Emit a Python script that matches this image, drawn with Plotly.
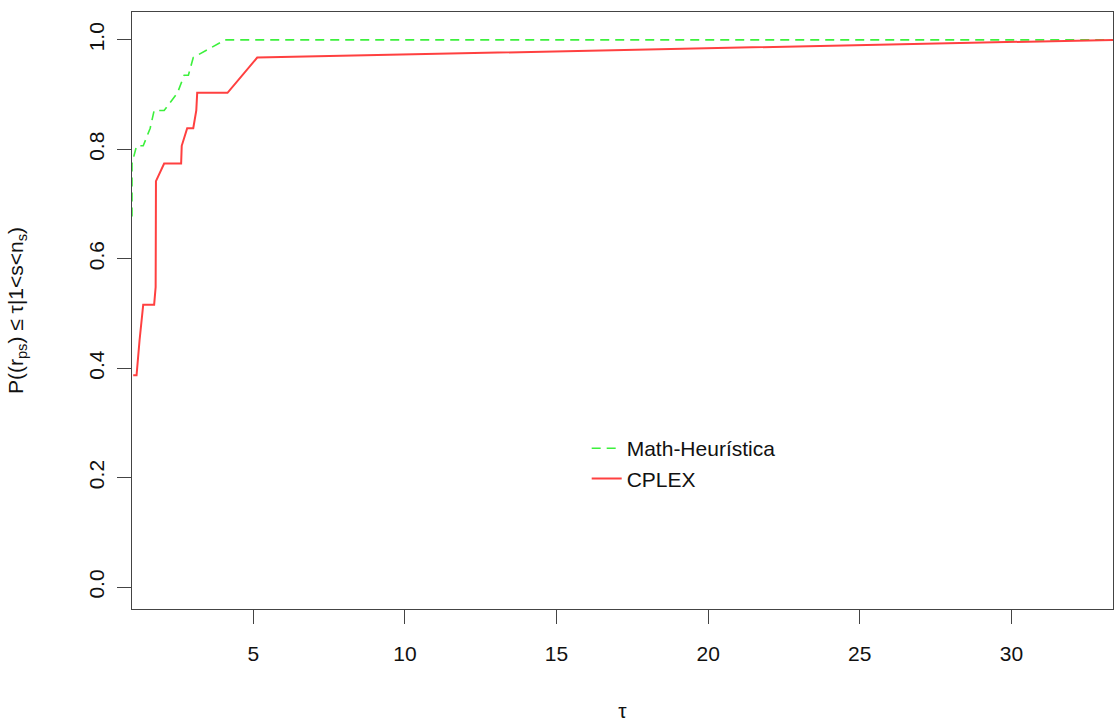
import plotly.graph_objects as go

N = 31
# Math-Heurística (green dashed)
mh_tau = [1.0, 1.0, 1.15, 1.37, 1.60, 1.73, 2.06, 2.50, 2.72, 2.86, 3.02, 4.07, 33.35]
mh_k = [21, 24, 25, 25, 26, 27, 27, 28, 29, 29, 30, 31, 31]

# CPLEX (red solid)
cp_tau = [1.04, 1.15, 1.25, 1.37, 1.73, 1.78, 1.79, 2.06, 2.62, 2.64, 2.82, 3.02, 3.12, 3.15, 4.15, 4.64, 5.13, 33.35]
cp_k = [12, 12, 14, 16, 16, 17, 23, 24, 24, 25, 26, 26, 27, 28, 28, 29, 30, 31]

x_ticks = [5, 10, 15, 20, 25, 30]
y_ticks = [0.0, 0.2, 0.4, 0.6, 0.8, 1.0]

mh_p = [k / N for k in mh_k]
cp_p = [k / N for k in cp_k]

FONT = "Liberation Sans, Arial, sans-serif"

fig = go.Figure()
fig.add_trace(go.Scatter(x=mh_tau, y=mh_p, mode="lines", name="Math-Heurística",
                         line=dict(color="#3cf03c", width=1.6, dash="9px,6px")))
fig.add_trace(go.Scatter(x=cp_tau, y=cp_p, mode="lines", name="CPLEX",
                         line=dict(color="#ff4040", width=2)))

axis_common = dict(showline=True, mirror=True, linecolor="#444444", linewidth=1.3,
                   ticks="outside", ticklen=14, tickcolor="#444444", tickwidth=1.3,
                   showgrid=False, zeroline=False,
                   tickfont=dict(family=FONT, size=21, color="#111111"))

fig.update_layout(
    width=1114, height=722,
    margin=dict(l=132, r=1, t=12, b=113),
    paper_bgcolor="white", plot_bgcolor="white",
    font=dict(family=FONT, size=21, color="#111111"),
    xaxis=dict(range=[1, 33.35], tickvals=x_ticks, ticklabelstandoff=12,
               title=dict(text="τ", standoff=40, font=dict(family=FONT, size=21)),
               **axis_common),
    yaxis=dict(range=[-0.04, 1.051], tickvals=y_ticks, tickformat=".1f", tickangle=-90,
               ticklabelstandoff=4,
               title=dict(text="P((r<sub>ps</sub>) ≤ τ|1<s<n<sub>s</sub>)", standoff=56,
                          font=dict(family=FONT, size=21)),
               **axis_common),
    legend=dict(x=0.4635, y=0.303, xanchor="left", yanchor="top",
                bgcolor="rgba(0,0,0,0)", borderwidth=0,
                font=dict(family=FONT, size=21, color="#111111"),
                tracegroupgap=0),
    showlegend=True,
)

fig.write_html("out.html")
